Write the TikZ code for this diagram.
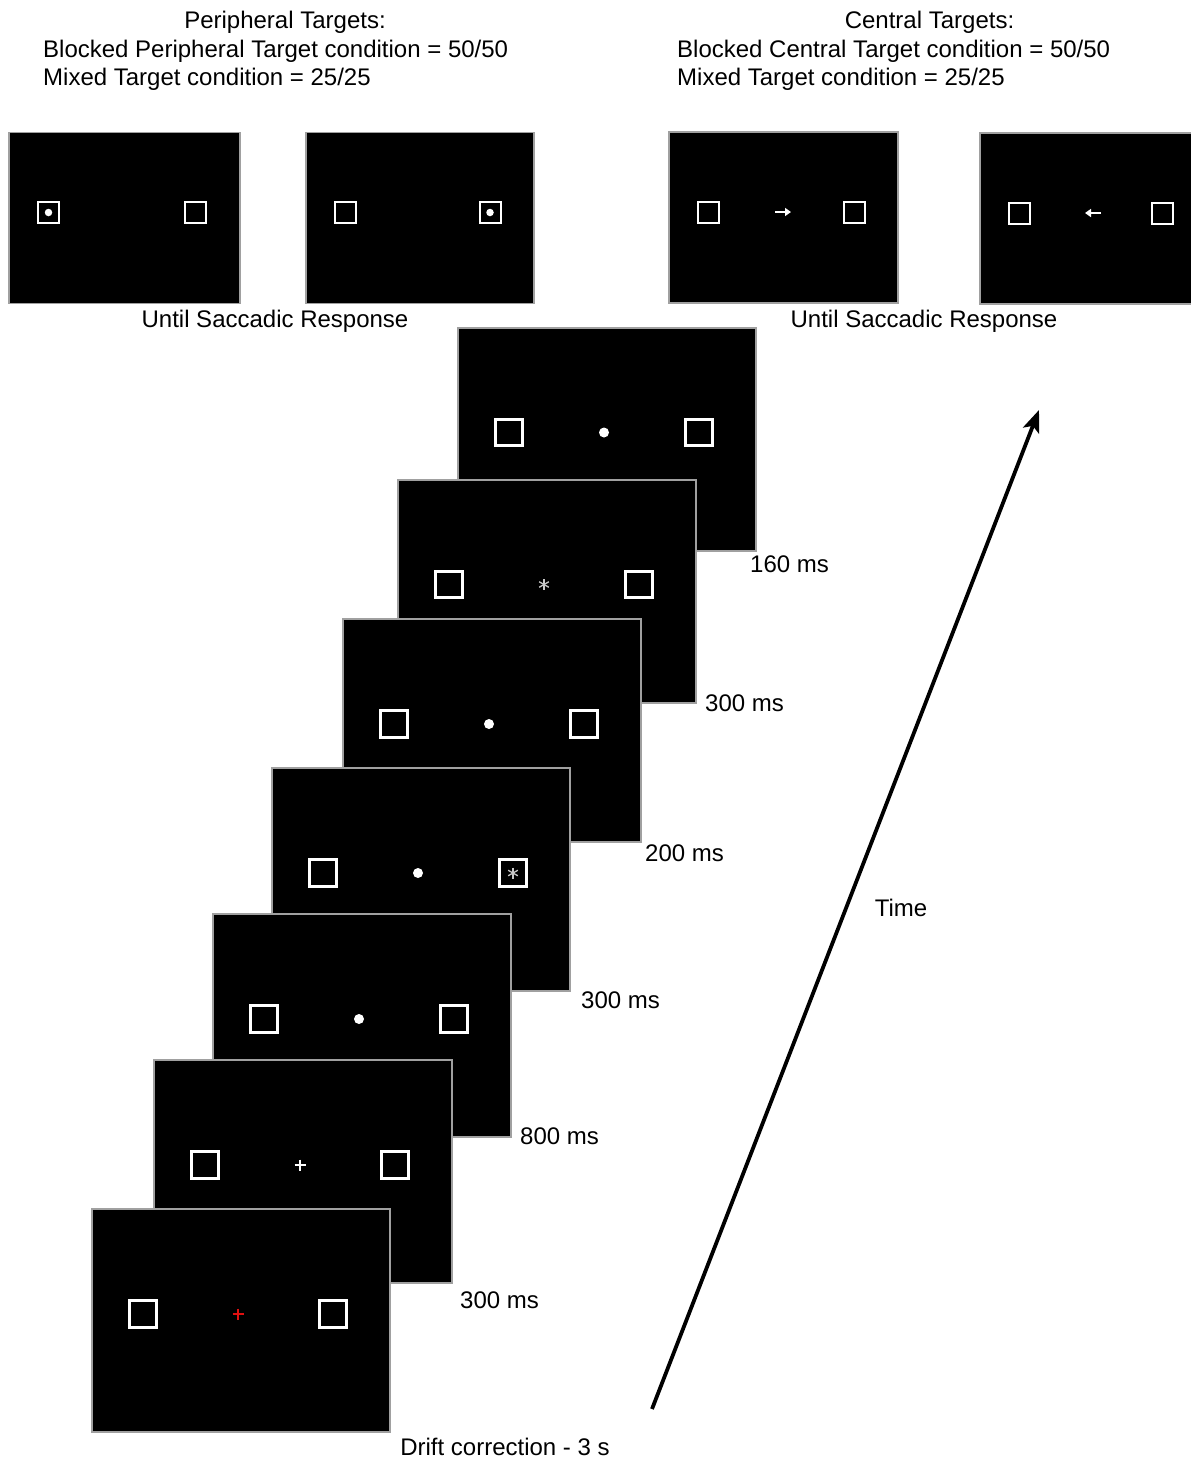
\documentclass[tikz,border=0pt]{standalone}
\usepackage{fontspec}
\setmainfont{Liberation Sans}
\usetikzlibrary{arrows.meta,calc}
\definecolor{scrgray}{HTML}{A0A0A0}
\definecolor{astgray}{HTML}{C8C8C8}
\definecolor{fixred}{HTML}{E01010}
\tikzset{
  screen/.style={draw=scrgray, fill=black, line width=2pt, minimum width=298pt, minimum height=223pt, inner sep=0pt, outer sep=0pt},
  smallscreen/.style={draw=scrgray, fill=black, line width=1.6pt, minimum width=230pt, minimum height=171pt, inner sep=0pt, outer sep=0pt},
  bigbox/.style={draw=white, line width=2.6pt, minimum size=26.5pt, inner sep=0pt, outer sep=0pt},
  smallbox/.style={draw=white, line width=2pt, minimum size=21pt, inner sep=0pt, outer sep=0pt},
  bigdot/.style={circle, fill=white, minimum size=10pt, inner sep=0pt},
  smalldot/.style={circle, fill=white, minimum size=7.5pt, inner sep=0pt},
  lbl/.style={font=\fontsize{24}{28}\selectfont, inner sep=0pt},
  astk/.style={draw=astgray, line width=1.3pt},
  plusline/.style={line width=1.6pt},
  smallarrow/.style={draw=white, line width=2pt, -{Triangle[length=6pt,width=8pt]}},
  timearrow/.style={draw=black, line width=3.8pt, -{Stealth[length=22pt,width=17pt,inset=5pt]}}
}
\newcommand\bigscreen[3]{%
  \node[screen, anchor=north west] (#1) at (#2,#3) {};
  \node[bigbox] (#1L) at (#2+51,#3+105) {};
  \node[bigbox] (#1R) at (#2+241,#3+105) {};
  \coordinate (#1C) at (#2+146,#3+105);
}
\newcommand\smallpanel[6]{%
  \node[smallscreen, anchor=north west, minimum width=#6] (#1) at (#2,#3) {};
  \node[smallbox] (#1L) at (#2+39.5,#3+80) {};
  \node[smallbox] (#1R) at (#2+#4,#3+80) {};
  \coordinate (#1C) at (#2+#5,#3+80);
}
\newcommand\asterisk[1]{%
  \draw[astk] ($(#1)+(0,-5.5)$) -- ($(#1)+(0,5.5)$);
  \draw[astk] ($(#1)+(-4.8,-2.75)$) -- ($(#1)+(4.8,2.75)$);
  \draw[astk] ($(#1)+(-4.8,2.75)$) -- ($(#1)+(4.8,-2.75)$);
}
\newcommand\plussign[2]{%
  \draw[plusline, draw=#2] ($(#1)+(-5.5,0)$) -- ($(#1)+(5.5,0)$);
  \draw[plusline, draw=#2] ($(#1)+(0,-5.5)$) -- ($(#1)+(0,5.5)$);
}
\begin{document}
\begin{tikzpicture}[x=1pt,y=-1pt]
\useasboundingbox (0,0) rectangle (1191,1460);
\clip (0,0) rectangle (1191,1460);

% header texts
\node[lbl, anchor=base] (hP) at (285,28.6) {Peripheral Targets:};
\node[lbl, anchor=base west] (hP1) at (43,57) {Blocked Peripheral Target condition = 50/50};
\node[lbl, anchor=base west] (hP2) at (43,85.5) {Mixed Target condition = 25/25};
\node[lbl, anchor=base] (hC) at (929.5,28.6) {Central Targets:};
\node[lbl, anchor=base west] (hC1) at (677,57) {Blocked Central Target condition = 50/50};
\node[lbl, anchor=base west] (hC2) at (677,85.5) {Mixed Target condition = 25/25};

% top panels
\smallpanel{p1}{9}{132.5}{186.5}{114}{231pt}
\node[smalldot] (p1d) at (p1L) {};
\smallpanel{p2}{306}{132.5}{184}{114}{228pt}
\node[smalldot] (p2d) at (p2R) {};
\smallpanel{p3}{669}{132}{185.5}{114}{229pt}
\draw[smallarrow] ($(p3C)+(-8,0)$) -- ($(p3C)+(8,0)$);
\smallpanel{p4}{980}{133}{182.5}{113}{260pt}
\draw[smallarrow] ($(p4C)+(8,0)$) -- ($(p4C)+(-8,0)$);

\node[lbl, anchor=base] (u1) at (275,327.6) {Until Saccadic Response};
\node[lbl, anchor=base] (u2) at (924,327.6) {Until Saccadic Response};

% stacked screens (back to front)
\bigscreen{s1}{458}{327.5}
\node[bigdot] (s1d) at (s1C) {};
\bigscreen{s2}{398}{479.5}
\asterisk{s2C}
\bigscreen{s3}{343}{619}
\node[bigdot] (s3d) at (s3C) {};
\bigscreen{s4}{272}{768}
\node[bigdot] (s4d) at (s4C) {};
\asterisk{s4R}
\bigscreen{s5}{213}{914}
\node[bigdot] (s5d) at (s5C) {};
\bigscreen{s6}{154}{1060}
\plussign{s6C}{white}
\bigscreen{s7}{92}{1209}
\plussign{s7C}{fixred}

% durations
\node[lbl, anchor=base west] (t1) at (750,572.6) {160 ms};
\node[lbl, anchor=base west] (t2) at (705,711.6) {300 ms};
\node[lbl, anchor=base west] (t3) at (645,861.6) {200 ms};
\node[lbl, anchor=base west] (t4) at (581,1008.6) {300 ms};
\node[lbl, anchor=base west] (t5) at (520,1144.6) {800 ms};
\node[lbl, anchor=base west] (t6) at (460,1308.6) {300 ms};
\node[lbl, anchor=base] (dc) at (505,1455.6) {Drift correction - 3 s};

% time arrow
\coordinate (ta) at (652,1409);
\coordinate (tb) at (1039,410);
\draw[timearrow] (ta) -- (tb);
\node[lbl, anchor=base] (time) at (901,916.6) {Time};
\end{tikzpicture}
\end{document}
